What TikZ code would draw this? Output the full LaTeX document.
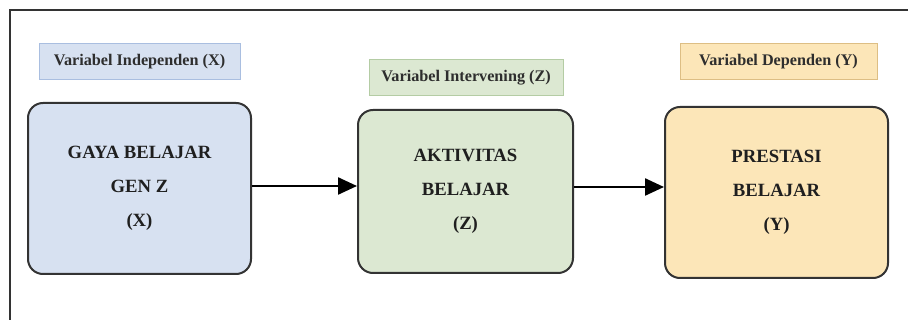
\documentclass[tikz,border=0pt]{standalone}
\usepackage{fontspec}
\setmainfont{Liberation Serif}
\usetikzlibrary{arrows.meta}
\definecolor{bluefill}{HTML}{D7E1F1}
\definecolor{blueline}{HTML}{A9BEE0}
\definecolor{greenfill}{HTML}{DCE8D2}
\definecolor{greenline}{HTML}{B4CCA4}
\definecolor{orangefill}{HTML}{FCE6B8}
\definecolor{orangeline}{HTML}{DDBE84}
\definecolor{framegray}{HTML}{333333}
\tikzset{
  mainbox/.style={draw=framegray, line width=2pt, rounded corners=15pt, align=center,
    font=\fontsize{18.7}{34}\selectfont\bfseries, text=black!88, inner sep=0pt},
  tagbox/.style={line width=1pt, font=\fontsize{16.2}{18}\selectfont\bfseries, text=black!82,
    inner sep=0pt},
  flow/.style={line width=2.4pt, draw=black, -{Triangle[length=19pt,width=17pt]}}
}
\begin{document}
\begin{tikzpicture}[x=1pt,y=-1pt]
\useasboundingbox (0,0) rectangle (908,320);
\fill[white] (0,0) rectangle (908,320);
% frame (right and bottom edges lie outside the picture)
\draw[framegray, line width=2pt] (10,330) -- (10,10) -- (918,10);
% main boxes
\node[mainbox, fill=bluefill, minimum width=223pt, minimum height=171pt] (x) at (139.5,188.5) {GAYA BELAJAR\\GEN Z\\(X)};
\node[mainbox, fill=greenfill, minimum width=215pt, minimum height=163pt] (z) at (465.5,191.5) {AKTIVITAS\\BELAJAR\\(Z)};
\node[mainbox, fill=orangefill, minimum width=223pt, minimum height=171pt] (y) at (776.5,192.5) {PRESTASI\\BELAJAR\\(Y)};
% tags
\node[tagbox, fill=bluefill, draw=blueline, minimum width=201pt, minimum height=36pt] (tx) at (139.5,62) {Variabel Independen (X)};
\node[tagbox, fill=greenfill, draw=greenline, minimum width=194pt, minimum height=36pt] (tz) at (466,78) {Variabel Intervening (Z)};
\node[tagbox, fill=orangefill, draw=orangeline, minimum width=197pt, minimum height=36pt] (ty) at (778.5,62) {Variabel Dependen (Y)};
% arrows
\draw[flow] (x.east |- 0,186) -- (z.west |- 0,186);
\draw[flow] (z.east |- 0,187) -- (y.west |- 0,187);
\end{tikzpicture}
\end{document}
